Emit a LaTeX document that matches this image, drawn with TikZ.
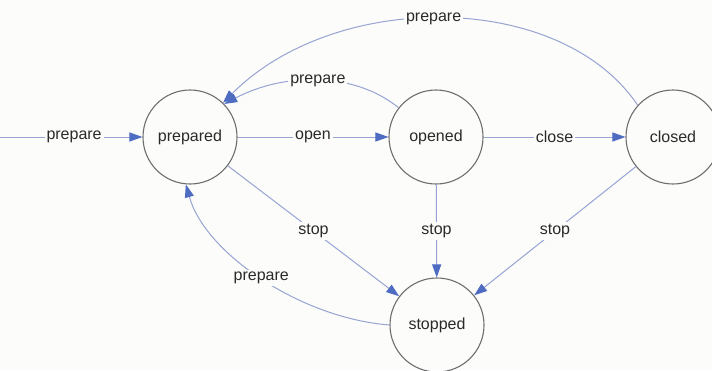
\documentclass[tikz,border=0pt]{standalone}
\usepackage{fontspec}
\setmainfont{Liberation Sans}
\usetikzlibrary{arrows.meta}
\definecolor{bg}{HTML}{FCFCFA}
\definecolor{edgecol}{HTML}{97A3D3}
\definecolor{tipcol}{HTML}{4E6CC2}
\definecolor{circcol}{HTML}{6E6E6E}
\definecolor{txtcol}{HTML}{2A2A2A}
\begin{document}
\begin{tikzpicture}[x=1pt,y=-1pt,
  state/.style={circle,draw=circcol,line width=1.1pt,minimum size=94pt,inner sep=0pt,
    font=\fontsize{16}{19}\selectfont,text=txtcol},
  trans/.style={draw=edgecol,line width=1pt,-{Triangle[length=13pt,width=9pt,color=tipcol]}},
  lbl/.style={fill=bg,inner sep=2pt,font=\fontsize{16}{19}\selectfont,text=txtcol}]
\fill[bg] (0,0) rectangle (712,370);
\useasboundingbox (0,0) rectangle (712,370);
\begin{scope}
\clip (0,0) rectangle (712,370);
\node[state] (prepared) at (190,137) {prepared};
\node[state] (opened) at (436,137) {opened};
\node[state] (closed) at (673,137) {closed};
\node[state] (stopped) at (437,325) {stopped};
\coordinate (entry) at (0,137);

\draw[trans] (entry) -- node[lbl,pos=0.52] {prepare} (prepared);
\draw[trans] (prepared) -- node[lbl] {open} (opened);
\draw[trans] (opened) -- node[lbl] {close} (closed);
\draw[trans] (opened) -- node[lbl] {stop} (stopped);
\draw[trans] (prepared) -- node[lbl] {stop} (stopped);
\draw[trans] (closed) -- node[lbl] {stop} (stopped);

\draw[trans] (closed.138) .. controls (560,-10) and (335,-10) .. node[lbl,pos=0.52] {prepare} (prepared.46);
\draw[trans] (opened.142) .. controls (355,72) and (285,72) .. node[lbl] {prepare} (prepared.44);
\draw[trans] (stopped.180) .. controls (300,318) and (205,253) .. node[lbl] {prepare} (prepared.-95);
\end{scope}
\end{tikzpicture}
\end{document}
